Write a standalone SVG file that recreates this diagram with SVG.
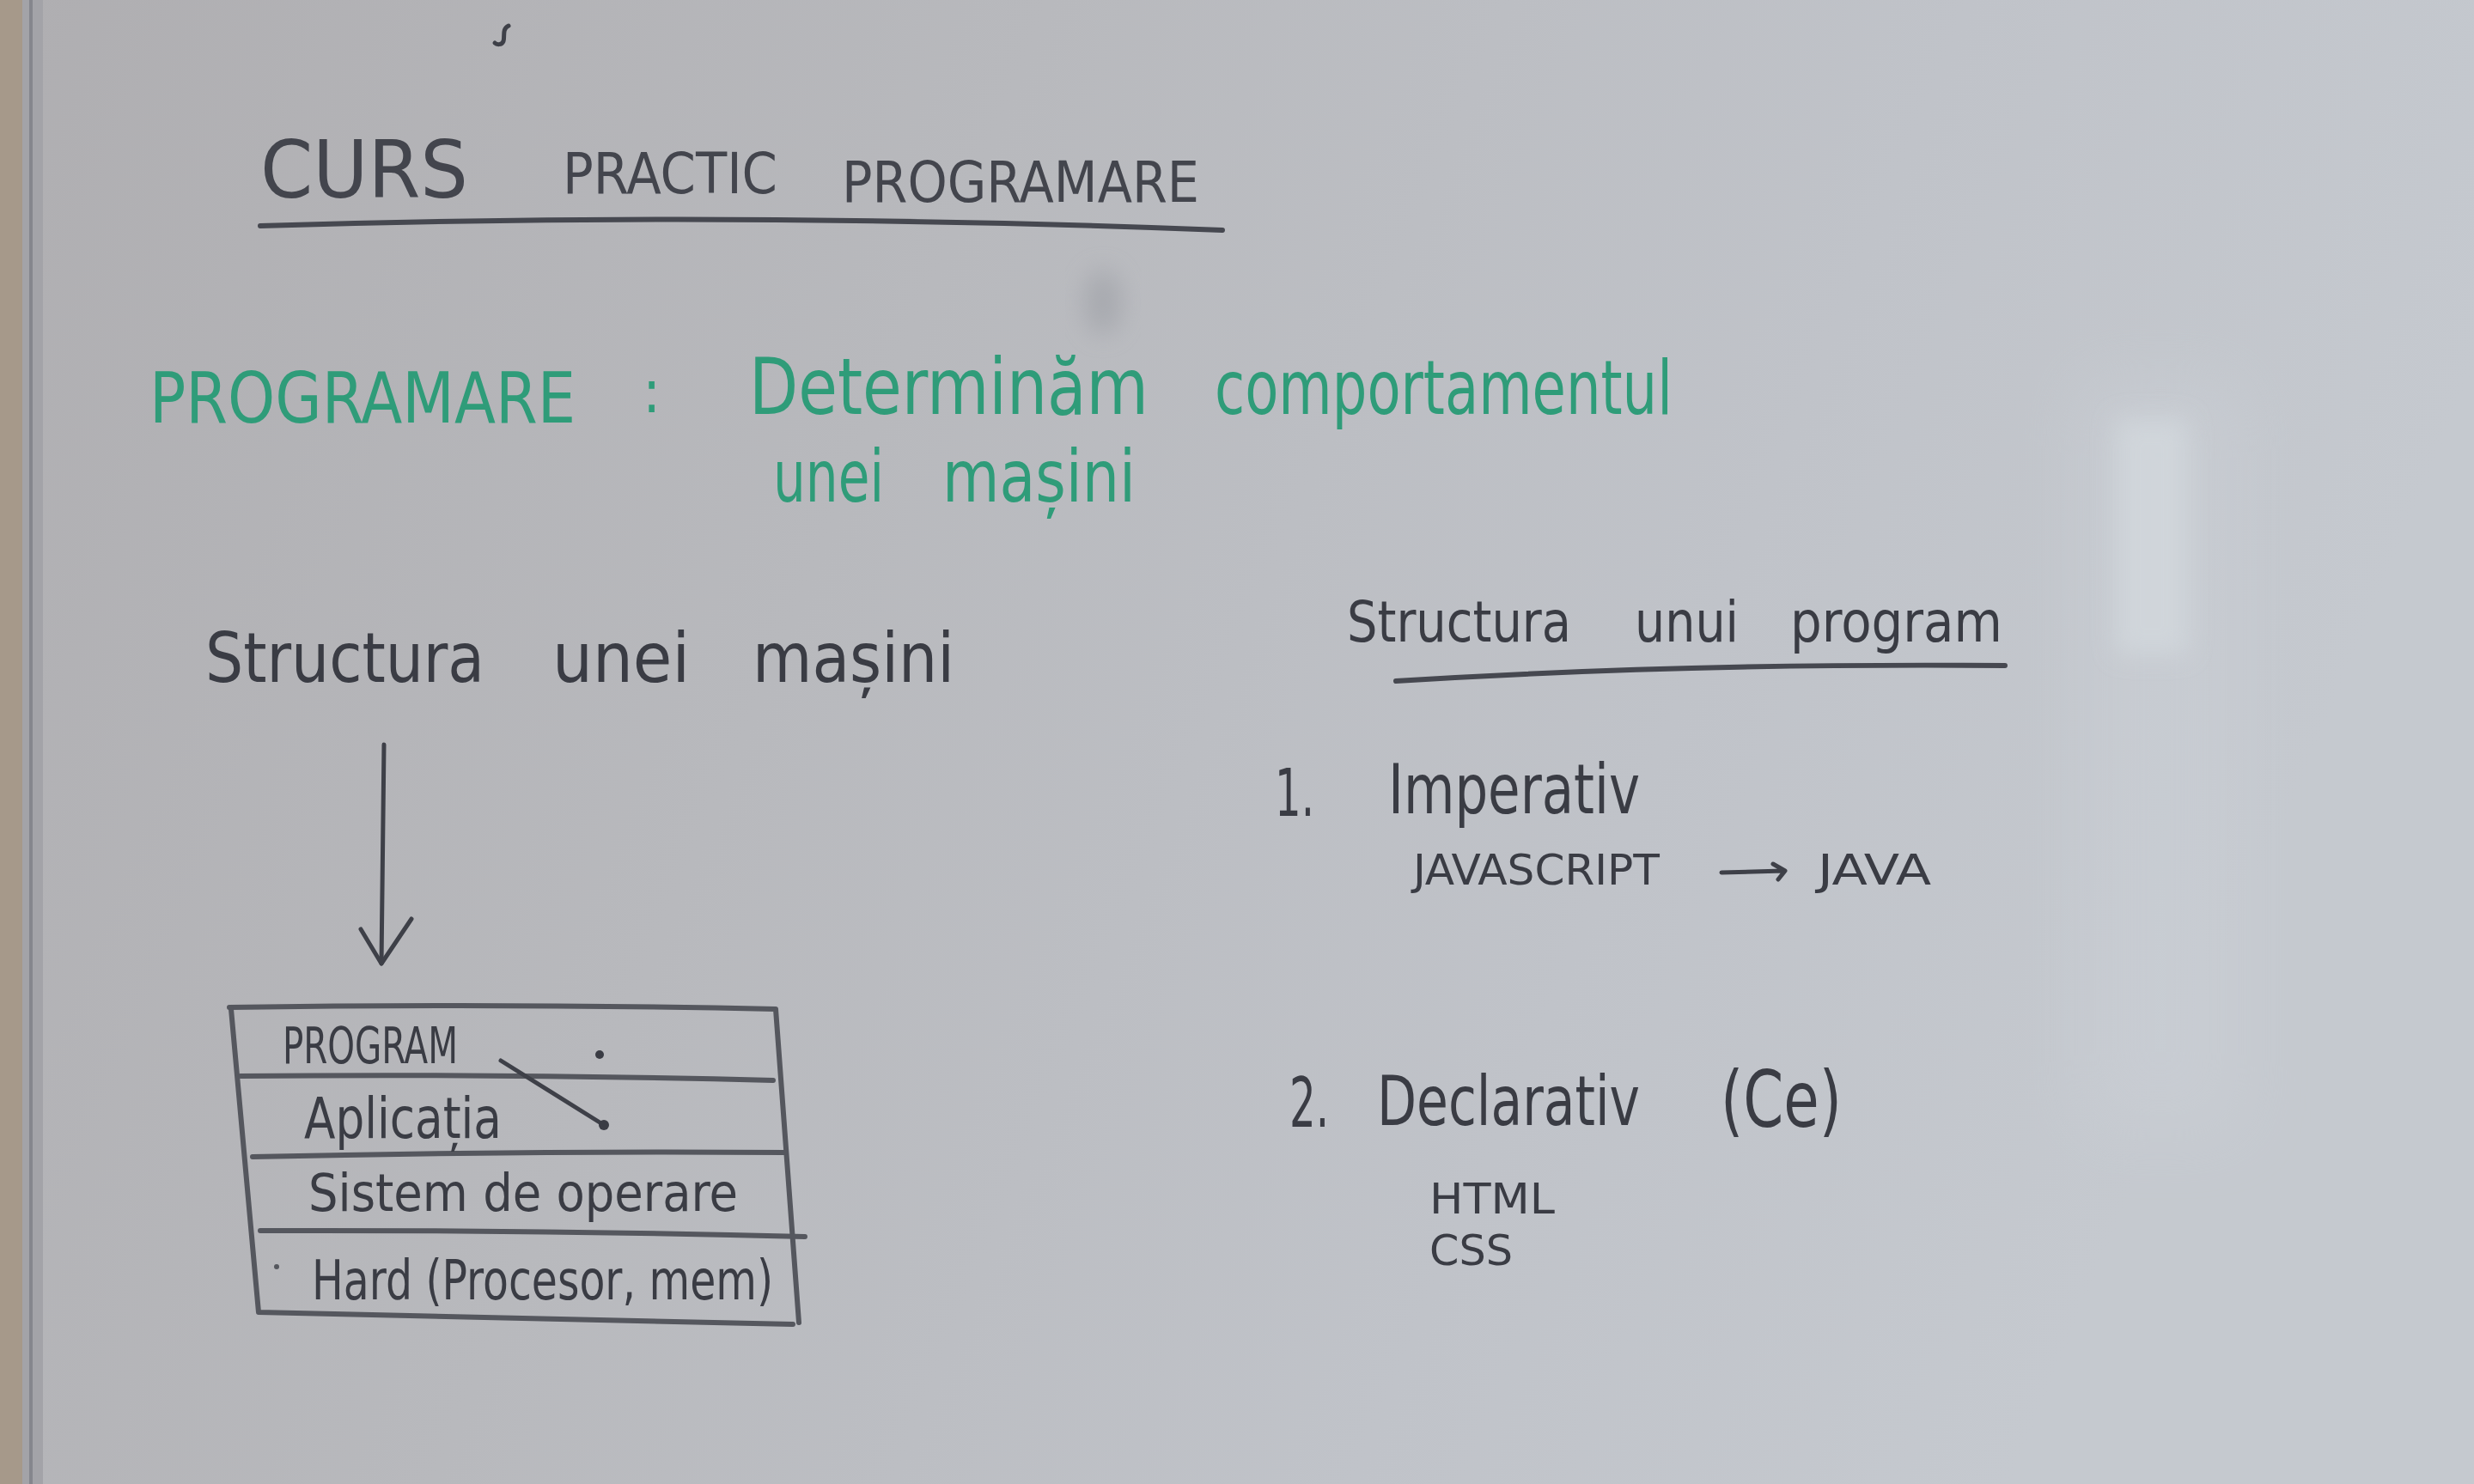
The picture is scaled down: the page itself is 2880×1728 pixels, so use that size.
<svg xmlns="http://www.w3.org/2000/svg" width="2880" height="1728" viewBox="0 0 2880 1728">
  <defs>
    <linearGradient id="board" x1="0" y1="0" x2="1" y2="0.25">
      <stop offset="0" stop-color="#afaeb1"/>
      <stop offset="0.4" stop-color="#b8b9bd"/>
      <stop offset="0.75" stop-color="#c0c3c9"/>
      <stop offset="1" stop-color="#c5c9cf"/>
    </linearGradient>
    <filter id="haze" x="-50%" y="-50%" width="200%" height="200%">
      <feGaussianBlur stdDeviation="14"/>
    </filter>
    <filter id="wide" x="-50%" y="-50%" width="200%" height="200%">
      <feGaussianBlur stdDeviation="40"/>
    </filter>
    <style>
      text{font-family:"DejaVu Sans Condensed","DejaVu Sans","Liberation Sans",sans-serif}
      .ink{fill:#3a3c44}
      .green{fill:#2f9c79}
      .stroke{fill:none;stroke:#3e4048;stroke-width:5;stroke-linecap:round;stroke-linejoin:round}
      .rule{fill:none;stroke:#464850;stroke-width:6;stroke-linecap:round}
      .cell{fill:none;stroke:#55575e;stroke-width:6;stroke-linecap:round;stroke-linejoin:round}
    </style>
  </defs>

  <!-- board surface -->
  <rect x="0" y="0" width="2880" height="1728" fill="url(#board)"/>
  <rect x="2420" y="440" width="190" height="880" fill="#cdd2d8" opacity="0.4" filter="url(#wide)"/>
  <rect x="2463" y="487" width="84" height="275" fill="#d4dadf" opacity="0.7" filter="url(#haze)"/>
  <ellipse cx="1284" cy="352" rx="22" ry="38" fill="#9a9ca3" opacity="0.55" filter="url(#haze)"/>

  <!-- frame on the left edge -->
  <rect x="0" y="0" width="26" height="1728" fill="#a6998a"/>
  <rect x="26" y="0" width="24" height="1728" fill="#a3a3a8"/>
  <line x1="36" y1="0" x2="36" y2="1728" stroke="#85868d" stroke-width="4"/>

  <!-- stray marker tick -->
  <path class="stroke" d="M592 30 C584 34 588 42 586 48 C584 53 578 52 576 50" stroke-width="3"/>

  <!-- title -->
  <g id="title">
    <text class="ink" style="fill:#43454d" x="303" y="230" font-size="92" textLength="242" lengthAdjust="spacingAndGlyphs">CURS</text>
    <text class="ink" style="fill:#43454d" x="655" y="225" font-size="66" textLength="250" lengthAdjust="spacingAndGlyphs">PRACTIC</text>
    <text class="ink" style="fill:#43454d" x="980" y="235" font-size="66" textLength="416" lengthAdjust="spacingAndGlyphs">PROGRAMARE</text>
    <path class="rule" d="M303 263 Q860 246 1423 268"/>
  </g>

  <!-- definition in green -->
  <g id="definition">
    <text class="green" x="174" y="492" font-size="82" textLength="496" lengthAdjust="spacingAndGlyphs">PROGRAMARE</text>
    <text class="green" x="748" y="480" font-size="70">:</text>
    <text class="green" x="872" y="482" font-size="90" textLength="465" lengthAdjust="spacingAndGlyphs">Determinăm</text>
    <text class="green" x="1414" y="482" font-size="88" textLength="533" lengthAdjust="spacingAndGlyphs">comportamentul</text>
    <text class="green" x="900" y="584" font-size="84" textLength="129" lengthAdjust="spacingAndGlyphs">unei</text>
    <text class="green" x="1097" y="584" font-size="84" textLength="225" lengthAdjust="spacingAndGlyphs">mașini</text>
  </g>

  <!-- left: structure of a machine -->
  <g id="machine-heading">
    <text class="ink" x="239" y="794" font-size="80" textLength="325" lengthAdjust="spacingAndGlyphs">Structura</text>
    <text class="ink" x="643" y="794" font-size="80" textLength="160" lengthAdjust="spacingAndGlyphs">unei</text>
    <text class="ink" x="876" y="794" font-size="80" textLength="235" lengthAdjust="spacingAndGlyphs">mașini</text>
  </g>

  <g id="machine-stack">
    <!-- outline and row dividers -->
    <path class="cell" d="M267 1173 Q590 1168 903 1175 L930 1540"/>
    <path class="cell" d="M269 1175 L301 1528 Q610 1535 923 1542"/>
    <path class="cell" d="M280 1253 Q590 1250 900 1258"/>
    <path class="cell" d="M294 1347 Q600 1340 914 1342"/>
    <path class="cell" d="M303 1433 Q620 1432 937 1440"/>
    <g id="row-program">
      <text class="ink" x="329" y="1238" font-size="58" textLength="204" lengthAdjust="spacingAndGlyphs">PROGRAM</text>
    </g>
    <g id="row-aplicatia">
      <text class="ink" x="354" y="1325" font-size="66" textLength="230" lengthAdjust="spacingAndGlyphs">Aplicația</text>
    </g>
    <g id="row-os">
      <text class="ink" x="359" y="1410" font-size="60" textLength="500" lengthAdjust="spacingAndGlyphs">Sistem de operare</text>
    </g>
    <g id="row-hard">
      <text class="ink" x="363" y="1513" font-size="64" textLength="537" lengthAdjust="spacingAndGlyphs">Hard (Procesor, mem)</text>
    </g>
    <circle cx="698" cy="1228" r="5" fill="#3a3c44"/>
    <circle cx="322" cy="1475" r="3" fill="#55575e"/>
  </g>

  <!-- right: structure of a program -->
  <g id="program-heading">
    <text class="ink" x="1568" y="747" font-size="66" textLength="261" lengthAdjust="spacingAndGlyphs">Structura</text>
    <text class="ink" x="1903" y="747" font-size="66" textLength="121" lengthAdjust="spacingAndGlyphs">unui</text>
    <text class="ink" x="2084" y="747" font-size="66" textLength="247" lengthAdjust="spacingAndGlyphs">program</text>
    <path class="rule" d="M1625 793 Q1960 772 2334 775"/>
  </g>

  <g id="imperativ">
    <text class="ink" x="1484" y="950" font-size="76" textLength="46" lengthAdjust="spacingAndGlyphs">1.</text>
    <text class="ink" x="1616" y="947" font-size="80" textLength="293" lengthAdjust="spacingAndGlyphs">Imperativ</text>
    <text class="ink" x="1645" y="1030" font-size="50" textLength="287" lengthAdjust="spacingAndGlyphs">JAVASCRIPT</text>
    <text class="ink" x="2116" y="1030" font-size="50" textLength="132" lengthAdjust="spacingAndGlyphs">JAVA</text>
  </g>

  <g id="declarativ">
    <text class="ink" x="1501" y="1312" font-size="80" textLength="46" lengthAdjust="spacingAndGlyphs">2.</text>
    <text class="ink" x="1603" y="1310" font-size="80" textLength="306" lengthAdjust="spacingAndGlyphs">Declarativ</text>
    <text class="ink" x="2003" y="1312" font-size="90" textLength="141" lengthAdjust="spacingAndGlyphs">(Ce)</text>
    <text class="ink" x="1664" y="1413" font-size="50" textLength="146" lengthAdjust="spacingAndGlyphs">HTML</text>
    <text class="ink" x="1664" y="1473" font-size="50" textLength="97" lengthAdjust="spacingAndGlyphs">CSS</text>
  </g>

  <!-- connectors -->
  <g id="connectors">
    <path class="stroke" d="M447 867 L444 1122"/>
    <path class="stroke" d="M420 1082 L444 1122 L479 1070"/>
    <path class="stroke" d="M583 1235 L703 1310" stroke-width="6"/>
    <circle cx="703" cy="1310" r="6" fill="#3a3c44"/>
    <path class="stroke" d="M2004 1016 L2076 1014 M2064 1006 L2078 1014 L2070 1024" stroke-width="4"/>
  </g>
</svg>
